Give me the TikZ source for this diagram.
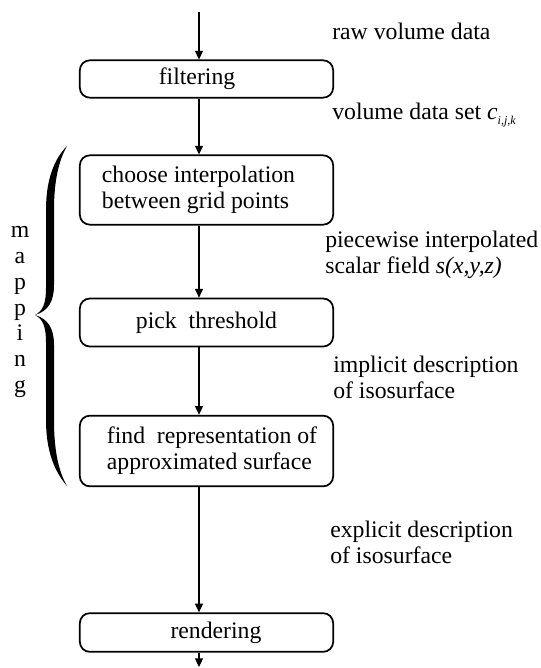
\documentclass[tikz,border=0pt]{standalone}
\usepackage{fontspec}
\setmainfont{Liberation Serif}
\usetikzlibrary{arrows.meta}
\begin{document}
\begin{tikzpicture}[x=0.75pt,y=-0.75pt,
  every node/.style={font=\fontsize{17.8pt}{19.5pt}\selectfont, inner sep=0pt},
  stage/.style={draw, line width=1.3pt, rounded corners=7.5pt,
    minimum width=190pt, inner sep=0pt},
  flow/.style={line width=0.8pt, -{Triangle[length=6.5pt,width=6pt]}},
  note/.style={align=left, anchor=west},
  brace/.style={fill=black}
]
\useasboundingbox (0,0) rectangle (541,668);

% processing stages
\node[stage, minimum height=28pt] (filtering) at (206.5,79) {filtering\kern14.25pt};
\node[stage, minimum height=52pt, align=left] (choose) at (206.5,190)
  {choose interpolation\kern12pt\\ between grid points};
\node[stage, minimum height=36pt] (pick) at (206.5,322.5) {pick\ \ threshold};
\node[stage, minimum height=53pt, align=left] (find) at (206.5,451)
  {\kern8.25pt find\ \ representation of\\ \kern8.25pt approximated surface};
\node[stage, minimum height=29pt] (rendering) at (206.5,632.5) {\kern14.25pt rendering};

% free ends of the pipeline
\coordinate (in) at (199,12);
\coordinate (out) at (199,667);

% data flow
\draw[flow] (in) -- (in |- filtering.north);
\draw[flow] (filtering.south -| in) -- (choose.north -| in);
\draw[flow] (choose.south -| in) -- (pick.north -| in);
\draw[flow] (pick.south -| in) -- (find.north -| in);
\draw[flow] (find.south -| in) -- (rendering.north -| in);
\draw[flow] (rendering.south -| in) -- (out);

% data descriptions
\node[anchor=base west] (raw) at (332,39) {raw volume data};
\node[anchor=base west] (volset) at (332,119)
  {volume data set \textit{c}\raisebox{-4pt}{\fontsize{9pt}{9pt}\selectfont\itshape i,j,k}};
\node[note] (field) at (325,254.4) {piecewise interpolated\\ scalar field \textit{s(x,y,z)}};
\node[note] (implicit) at (333,376.9) {implicit description\\ of isosurface};
\node[note] (explicit) at (330,541.9) {explicit description\\ of isosurface};

% brace grouping the mapping stages
\fill[brace] (67,146) .. controls (55,158) and (46,178) .. (46,210) -- (46,288)
  .. controls (46,303) and (43,311) .. (35,315)
  .. controls (43,319) and (46,327) .. (46,342) -- (46,420)
  .. controls (46,452) and (55,472) .. (67,486)
  .. controls (59,472) and (54,452) .. (54,420) -- (54,345)
  .. controls (54,328) and (48,319) .. (35,315)
  .. controls (48,311) and (54,302) .. (54,285) -- (54,210)
  .. controls (54,180) and (59,160) .. (67,146) -- cycle;
\node[align=center, font=\fontsize{17.8pt}{19.3pt}\selectfont] (mapping) at (20,312)
  {m\\ a\\ p\\ p\\ i\\ n\\ g};
\end{tikzpicture}
\end{document}
